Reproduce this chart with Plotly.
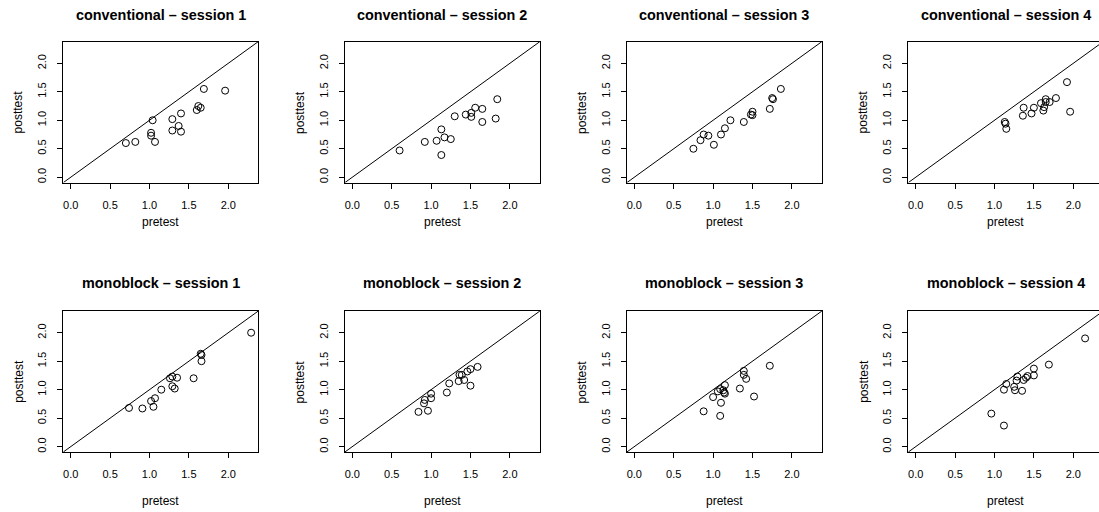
import plotly.graph_objects as go

W, H = 1099, 512
FONT = "Liberation Sans, Arial, sans-serif"

titles = [
    "conventional – session 1", "conventional – session 2",
    "conventional – session 3", "conventional – session 4",
    "monoblock – session 1", "monoblock – session 2",
    "monoblock – session 3", "monoblock – session 4",
]
tick_vals = [0.0, 0.5, 1.0, 1.5, 2.0]
tick_text = ["0.0", "0.5", "1.0", "1.5", "2.0"]

conv1_pre = [0.70, 0.82, 1.02, 1.02, 1.04, 1.07, 1.29, 1.29, 1.37, 1.40, 1.40, 1.60, 1.62, 1.65, 1.69, 1.96]
conv1_post = [0.60, 0.62, 0.78, 0.73, 1.00, 0.62, 1.02, 0.82, 0.90, 1.12, 0.80, 1.18, 1.25, 1.22, 1.55, 1.52]

conv2_pre = [0.60, 0.92, 1.07, 1.13, 1.13, 1.17, 1.25, 1.30, 1.44, 1.51, 1.51, 1.56, 1.65, 1.65, 1.82, 1.84]
conv2_post = [0.47, 0.62, 0.64, 0.84, 0.39, 0.70, 0.67, 1.07, 1.10, 1.13, 1.06, 1.22, 1.20, 0.97, 1.03, 1.37]

conv3_pre = [0.75, 0.84, 0.88, 0.94, 1.01, 1.10, 1.15, 1.22, 1.39, 1.48, 1.50, 1.50, 1.72, 1.75, 1.76, 1.86]
conv3_post = [0.50, 0.65, 0.75, 0.73, 0.57, 0.75, 0.86, 1.00, 0.97, 1.10, 1.15, 1.09, 1.20, 1.39, 1.37, 1.55]

conv4_pre = [1.13, 1.14, 1.15, 1.36, 1.37, 1.47, 1.50, 1.59, 1.62, 1.63, 1.65, 1.65, 1.70, 1.78, 1.92, 1.96]
conv4_post = [0.97, 0.94, 0.85, 1.08, 1.22, 1.12, 1.22, 1.30, 1.17, 1.23, 1.37, 1.32, 1.32, 1.39, 1.67, 1.15]

mono1_pre = [0.74, 0.91, 1.02, 1.05, 1.07, 1.15, 1.26, 1.29, 1.29, 1.32, 1.35, 1.56, 1.65, 1.66, 1.66, 2.29]
mono1_post = [0.68, 0.67, 0.80, 0.70, 0.85, 1.00, 1.20, 1.23, 1.06, 1.02, 1.21, 1.20, 1.63, 1.61, 1.50, 2.00]

mono2_pre = [0.84, 0.91, 0.92, 0.96, 1.00, 1.00, 1.20, 1.23, 1.35, 1.36, 1.39, 1.42, 1.46, 1.50, 1.50, 1.59]
mono2_post = [0.61, 0.76, 0.82, 0.63, 0.93, 0.85, 0.95, 1.11, 1.15, 1.26, 1.26, 1.17, 1.32, 1.36, 1.07, 1.40]

mono3_pre = [0.88, 1.00, 1.06, 1.09, 1.10, 1.09, 1.13, 1.15, 1.14, 1.15, 1.34, 1.39, 1.39, 1.42, 1.52, 1.72]
mono3_post = [0.62, 0.87, 0.97, 1.01, 0.77, 0.54, 0.99, 1.08, 0.95, 0.93, 1.02, 1.26, 1.33, 1.19, 0.88, 1.42]

mono4_pre = [0.96, 1.12, 1.12, 1.15, 1.25, 1.26, 1.28, 1.29, 1.35, 1.37, 1.40, 1.42, 1.50, 1.50, 1.69, 2.15]
mono4_post = [0.58, 0.37, 1.00, 1.10, 1.05, 0.99, 1.16, 1.23, 0.98, 1.17, 1.21, 1.24, 1.37, 1.25, 1.44, 1.90]

pre_sets = [conv1_pre, conv2_pre, conv3_pre, conv4_pre, mono1_pre, mono2_pre, mono3_pre, mono4_pre]
post_sets = [conv1_post, conv2_post, conv3_post, conv4_post, mono1_post, mono2_post, mono3_post, mono4_post]

# layout geometry (pixels)
AX_LO, AX_HI = -0.094, 2.381
col_left = [63.3, 344.9, 626.9, 908.3]
panel_w = 195.0
row_top = [41.6, 311.0]
panel_h = 141.0
title_y = [15.0, 282.7]
xlab_y = [221.7, 501.0]

fig = go.Figure()
annotations = []

for i in range(8):
    r, c = divmod(i, 4)
    n = "" if i == 0 else str(i + 1)
    left = col_left[c]
    right = left + panel_w
    hi = AX_HI
    if right > W:
        hi = AX_LO + (W - left) / panel_w * (AX_HI - AX_LO)
        right = W
    x0 = left / W
    x1 = right / W
    y1 = 1 - row_top[r] / H
    y0 = 1 - (row_top[r] + panel_h) / H
    clipped = hi < AX_HI

    fig.add_trace(go.Scatter(
        x=[AX_LO, AX_HI], y=[AX_LO, AX_HI], mode="lines",
        line=dict(color="black", width=1), xaxis="x" + n, yaxis="y" + n,
        hoverinfo="skip", showlegend=False))
    fig.add_trace(go.Scatter(
        x=pre_sets[i], y=post_sets[i], mode="markers",
        marker=dict(symbol="circle-open", size=7, color="black",
                    line=dict(width=1, color="black")),
        xaxis="x" + n, yaxis="y" + n, showlegend=False))

    common = dict(showline=True, linecolor="black", linewidth=1,
                  ticks="outside", ticklen=5, tickwidth=1, tickcolor="black",
                  tickvals=tick_vals, ticktext=tick_text, showgrid=False,
                  zeroline=False, tickfont=dict(size=11, color="black", family=FONT))
    fig.layout["xaxis" + n] = dict(domain=[x0, x1], range=[AX_LO, hi],
                                   anchor="y" + n, mirror=True,
                                   ticklabelstandoff=7, **common)
    fig.layout["yaxis" + n] = dict(domain=[y0, y1], range=[AX_LO, AX_HI],
                                   anchor="x" + n, mirror=not clipped,
                                   tickangle=-90, ticklabelstandoff=7, **common)

    cx = (left + panel_w / 2) / W
    annotations.append(dict(text="<b>" + titles[i] + "</b>", x=cx, y=1 - title_y[r] / H,
                            xref="paper", yref="paper", showarrow=False,
                            xanchor="center", yanchor="middle",
                            font=dict(size=14.4, color="black", family=FONT)))
    annotations.append(dict(text="pretest", x=cx, y=1 - xlab_y[r] / H,
                            xref="paper", yref="paper", showarrow=False,
                            xanchor="center", yanchor="middle",
                            font=dict(size=12, color="black", family=FONT)))
    annotations.append(dict(text="posttest", x=(left - 45) / W,
                            y=1 - (row_top[r] + panel_h / 2) / H,
                            xref="paper", yref="paper", showarrow=False,
                            textangle=-90, xanchor="center", yanchor="middle",
                            font=dict(size=12, color="black", family=FONT)))

fig.update_layout(width=W, height=H, margin=dict(l=0, r=0, t=0, b=0),
                  paper_bgcolor="white", plot_bgcolor="white",
                  font=dict(family=FONT, color="black"),
                  annotations=annotations, showlegend=False)

fig.write_html("out.html", config={"displayModeBar": False},
               post_script="document.body.style.margin='0';document.body.style.padding='0';"
                           "document.body.style.overflow='hidden';")
